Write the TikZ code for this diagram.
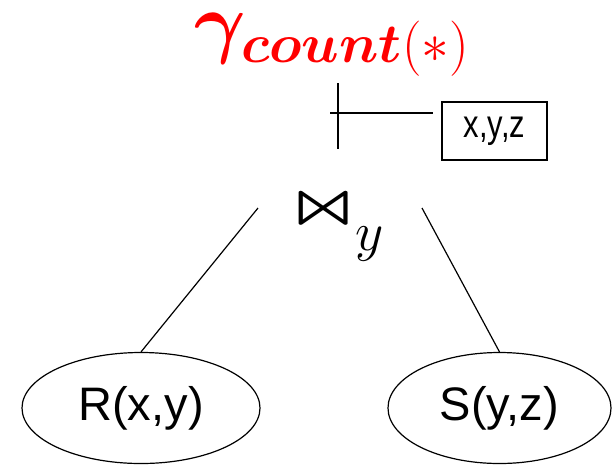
\RequirePackage{fix-cm}
\documentclass[tikz,border=0pt]{standalone}
\usepackage{fontspec}
\setmainfont{Liberation Sans}
\usepackage{amsmath,bm,latexsym,graphicx}
\usetikzlibrary{shapes.geometric}
\begin{document}
\begin{tikzpicture}[x=1pt,y=-1pt,
  line/.style={draw=black,line width=1.2pt},
  rel/.style={ellipse,draw=black,line width=1.2pt,inner sep=0pt,font=\fontsize{47}{47}\selectfont},
  attrbox/.style={draw=black,line width=1.2pt,inner sep=0pt,minimum width=105pt,minimum height=58pt,font=\fontsize{31}{31}\selectfont}]
\useasboundingbox (0,0) rectangle (612,464);
\node[text=red,inner sep=0pt,anchor=center] (g) at (332,45)
  {\fontsize{79}{79}\selectfont $\bm{\gamma}_{\bm{count}(*)}$};
\node[inner sep=0pt,anchor=base west] (j) at (294,227)
  {\scalebox{7}[5.6]{$\bm{\Join}$}\hspace{3pt}\raisebox{-23pt}{\fontsize{55}{55}\selectfont$y$}};
\node[attrbox] (b) at (494.5,131) {\scalebox{1}[1.25]{x,y,z}};
\node[rel,minimum width=238pt,minimum height=111pt] (r) at (141,408) {R(x,y)};
\node[rel,minimum width=223pt,minimum height=111pt] (s) at (499.5,408) {S(y,z)};
\coordinate (vt) at (338,83);
\coordinate (vb) at (338,149);
\coordinate (hl) at (330,113);
\coordinate (hr) at (433,113);
\coordinate (jl) at (258,208);
\coordinate (jr) at (422,208);
\draw[line] (vt) -- (vb);
\draw[line] (hl) -- (hr);
\draw[line] (jl) -- (r.north);
\draw[line] (jr) -- (s.north);
\end{tikzpicture}
\end{document}
